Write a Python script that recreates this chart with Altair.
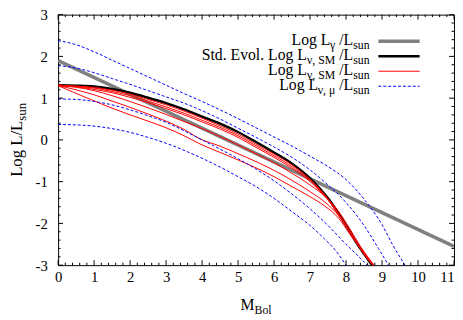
import altair as alt
import pandas as pd

# ---------------- data ----------------
gray_M = [0, 11]
gray_v = [1.90, -2.55]

black_M = [0, 0.5, 1, 1.5, 2, 2.5, 3, 3.5, 4, 4.5, 5, 5.5, 6, 6.5, 7, 7.5, 8, 8.3, 8.5, 8.72]
black_v = [1.31, 1.30, 1.28, 1.22, 1.13, 1.01, 0.88, 0.73, 0.56, 0.39, 0.19, -0.05, -0.30, -0.57, -0.92, -1.40, -2.05, -2.48, -2.73, -3.00]

red1_M = [0, 0.5, 1, 1.5, 2, 2.5, 3, 3.5, 4, 4.5, 5, 5.5, 6, 6.5, 7, 7.5, 8, 8.3, 8.5, 8.74]
red1_v = [1.31, 1.29, 1.26, 1.19, 1.10, 0.97, 0.84, 0.69, 0.52, 0.34, 0.14, -0.10, -0.34, -0.60, -0.94, -1.41, -2.05, -2.48, -2.74, -3.00]
red2_M = [0, 0.5, 1, 1.5, 2, 2.5, 3, 3.5, 4, 4.5, 5, 5.5, 6, 6.5, 7, 7.5, 8, 8.3, 8.5, 8.76]
red2_v = [1.31, 1.28, 1.24, 1.16, 1.06, 0.93, 0.79, 0.64, 0.47, 0.30, 0.10, -0.14, -0.38, -0.64, -0.97, -1.42, -2.05, -2.47, -2.73, -3.00]
red3_M = [0, 0.5, 1, 1.5, 2, 2.5, 3, 3.5, 4, 4.5, 5, 5.5, 6, 6.5, 7, 7.5, 8, 8.3, 8.5, 8.78]
red3_v = [1.31, 1.27, 1.21, 1.13, 1.02, 0.89, 0.75, 0.60, 0.43, 0.26, 0.06, -0.18, -0.42, -0.68, -1.00, -1.44, -2.06, -2.47, -2.72, -3.00]
red4_M = [0, 0.5, 1, 1.5, 2, 2.5, 3, 3.5, 4, 4.5, 5, 5.5, 6, 6.5, 7, 7.5, 7.8, 8.1, 8.4, 8.78]
red4_v = [1.30, 1.26, 1.18, 1.06, 0.92, 0.77, 0.61, 0.44, 0.27, 0.08, -0.12, -0.33, -0.55, -0.80, -1.08, -1.42, -1.72, -2.12, -2.55, -3.00]
red5_M = [0, 0.5, 1, 1.5, 2, 2.5, 3, 3.5, 3.93, 4.5, 5, 5.5, 6, 6.5, 7, 7.4, 7.8, 8.1, 8.4, 8.76]
red5_v = [1.30, 1.20, 1.08, 0.93, 0.78, 0.62, 0.45, 0.25, 0.03, -0.15, -0.33, -0.52, -0.73, -0.97, -1.24, -1.48, -1.82, -2.20, -2.60, -3.00]
red6_M = [0, 0.4, 0.9, 1.5, 2, 2.5, 3, 3.5, 3.9, 4.5, 5, 5.5, 6, 6.5, 7, 7.4, 7.8, 8.1, 8.4, 8.75]
red6_v = [1.30, 1.15, 0.97, 0.76, 0.60, 0.45, 0.29, 0.10, -0.08, -0.30, -0.48, -0.67, -0.88, -1.12, -1.36, -1.58, -1.88, -2.25, -2.60, -3.00]

blue1_M = [0, 0.5, 1, 1.5, 2, 2.5, 3, 3.5, 4, 4.5, 5, 5.5, 6, 6.5, 7, 7.5, 8, 8.5, 9, 9.3, 9.64]
blue1_v = [2.38, 2.28, 2.11, 1.91, 1.71, 1.51, 1.31, 1.11, 0.92, 0.72, 0.51, 0.29, 0.07, -0.15, -0.39, -0.64, -0.95, -1.42, -2.03, -2.52, -3.00]
blue2_M = [0, 0.5, 1, 1.5, 2, 2.5, 3, 3.5, 4, 4.5, 5, 5.5, 6, 6.5, 7, 7.5, 8, 8.5, 8.9, 9.18]
blue2_v = [1.78, 1.72, 1.61, 1.47, 1.33, 1.18, 1.03, 0.88, 0.70, 0.50, 0.28, 0.06, -0.17, -0.42, -0.72, -1.08, -1.50, -2.05, -2.60, -3.00]
blue3_M = [0, 0.5, 1, 1.5, 2, 2.5, 3, 3.5, 4, 4.5, 5, 5.5, 6, 6.5, 7, 7.5, 8, 8.3, 8.59]
blue3_v = [0.98, 0.97, 0.92, 0.84, 0.72, 0.58, 0.42, 0.22, 0.00, -0.22, -0.45, -0.70, -0.98, -1.30, -1.65, -2.05, -2.50, -2.75, -3.00]
blue4_M = [0, 0.5, 1, 1.5, 2, 2.5, 3, 3.5, 4, 4.5, 5, 5.5, 6, 6.5, 7, 7.4, 7.7, 8.0]
blue4_v = [0.37, 0.36, 0.33, 0.27, 0.18, 0.06, -0.08, -0.25, -0.44, -0.65, -0.88, -1.12, -1.40, -1.72, -2.05, -2.37, -2.64, -3.00]

x_major = list(range(0, 12))
y_major = [-3, -2, -1, 0, 1, 2, 3]
x_minor = [i / 5 for i in range(0, 56) if i % 5]
y_minor = [-3 + i / 5 for i in range(0, 31) if i % 5]

# ---------------- build table ----------------
rows = []
def add(name, group, Ms, vs):
    for i, (m, v) in enumerate(zip(Ms, vs)):
        rows.append({"series": name, "group": group, "M": m, "v": v, "i": i})

add("gray", "gray", gray_M, gray_v)
add("black", "black", black_M, black_v)
for k, (Ms, vs) in enumerate([(red1_M, red1_v), (red2_M, red2_v), (red3_M, red3_v),
                               (red4_M, red4_v), (red5_M, red5_v), (red6_M, red6_v)]):
    add(f"red{k}", "red", Ms, vs)
for k, (Ms, vs) in enumerate([(blue1_M, blue1_v), (blue2_M, blue2_v),
                               (blue3_M, blue3_v), (blue4_M, blue4_v)]):
    add(f"blue{k}", "blue", Ms, vs)
df = pd.DataFrame(rows)

W, H = 403, 255
FONT = "Liberation Serif"
xs = alt.Scale(domain=[0, 11], nice=False, zero=False)
ys = alt.Scale(domain=[-3, 3], nice=False, zero=False)
xaxis = alt.Axis(title=None, values=x_major, ticks=False, domain=False, grid=False,
                 labelFont=FONT, labelFontSize=15, labelColor="black", labelPadding=5,
                 labelExpr="'' + datum.value", labelOverlap=False, labelFlush=False,
                 labelAlign=alt.condition("datum.value == 11", alt.value("right"), alt.value("center")))
yaxis = alt.Axis(title=None, values=y_major, ticks=False, domain=False, grid=False,
                 labelFont=FONT, labelFontSize=15, labelColor="black", labelPadding=11,
                 labelExpr="'' + datum.value", labelOverlap=False, labelFlush=False)

STY = {
    "gray": dict(color="#808080", strokeWidth=3.5),
    "black": dict(color="black", strokeWidth=2.5),
    "red": dict(color="#ff0000", strokeWidth=1),
    "blue": dict(color="#0000ff", strokeWidth=1, strokeDash=[3, 2]),
}

layers = []
for g in ["gray", "black", "red", "blue"]:
    layers.append(
        alt.Chart(df).transform_filter(alt.datum.group == g)
        .mark_line(clip=True, interpolate="monotone", **STY[g])
        .encode(x=alt.X("M:Q", scale=xs, axis=xaxis),
                y=alt.Y("v:Q", scale=ys, axis=yaxis),
                detail="series:N", order="i:Q")
    )

# inward ticks on all four sides
def xticks(vals, L):
    d = pd.DataFrame({"t": vals})
    b = alt.Chart(d).mark_rule(color="black", strokeWidth=1).encode(
        x=alt.X("t:Q", scale=xs, axis=xaxis), y=alt.value(H), y2=alt.value(H - L))
    t = alt.Chart(d).mark_rule(color="black", strokeWidth=1).encode(
        x=alt.X("t:Q", scale=xs, axis=xaxis), y=alt.value(0), y2=alt.value(L))
    return [b, t]

def yticks(vals, L):
    d = pd.DataFrame({"t": vals})
    l = alt.Chart(d).mark_rule(color="black", strokeWidth=1).encode(
        y=alt.Y("t:Q", scale=ys, axis=yaxis), x=alt.value(0), x2=alt.value(L))
    r = alt.Chart(d).mark_rule(color="black", strokeWidth=1).encode(
        y=alt.Y("t:Q", scale=ys, axis=yaxis), x=alt.value(W), x2=alt.value(W - L))
    return [l, r]

layers += xticks(x_major, 5) + xticks(x_minor, 2.5) + yticks(y_major, 5) + yticks(y_minor, 2.5)

# ---------------- text helpers (Times metrics) ----------------
EM = {"L": 0.611, "o": 0.5, "g": 0.5, " ": 0.25, "/": 0.278, "s": 0.389, "u": 0.5,
      "n": 0.5, "S": 0.556, "t": 0.278, "d": 0.5, ".": 0.25, "E": 0.611, "v": 0.5,
      "l": 0.278, "γ": 0.41, "ν": 0.46, ",": 0.25, "M": 0.889, "μ": 0.5, "B": 0.667}
def tw(s, size):
    return sum(EM.get(c, 0.5) for c in s) * size

one = pd.DataFrame({"a": [0]})
def txt(s, x, y, size, align="left", angle=0):
    return alt.Chart(one).mark_text(align=align, baseline="alphabetic", font=FONT,
                                    fontSize=size, color="black", angle=angle).encode(
        text=alt.value(s), x=alt.value(x), y=alt.value(y))

F, FS, SUBDY = 16, 12, 4

# legend
leg_rows = [
    ("gray", [("Log L", 0), ("γ", 1), (" /L", 0), ("sun", 1)]),
    ("black", [("Std. Evol. Log L", 0), ("ν, SM", 1), (" /L", 0), ("sun", 1)]),
    ("red", [("Log L", 0), ("ν, SM", 1), (" /L", 0), ("sun", 1)]),
    ("blue", [("Log L", 0), ("ν, μ", 1), (" /L", 0), ("sun", 1)]),
]
TEXT_R = 317
for r, (g, pieces) in enumerate(leg_rows):
    ly = 27 + r * 15.3
    base = ly + 4
    cur = TEXT_R
    for s, sub in reversed(pieces):
        size = FS if sub else F
        layers.append(txt(s, cur, base + (SUBDY if sub else 0), size, align="right"))
        cur -= tw(s, size)
    sty = dict(STY[g])
    layers.append(alt.Chart(one).mark_rule(**sty).encode(
        x=alt.value(326), x2=alt.value(368), y=alt.value(ly)))

# axis titles
FT, FTS = 17, 13
ymain, ysub = "Log L/L", "sun"
T = tw(ymain, FT) + tw(ysub, FTS)
y0 = H / 2 + T / 2
layers.append(txt(ymain, -37, y0, FT, angle=270))
layers.append(txt(ysub, -37 + 4, y0 - tw(ymain, FT), FTS, angle=270))
T2 = tw("M", F) + tw("Bol", FS)
x0 = W / 2 - T2 / 2
layers.append(txt("M", x0, 300.7, F))
layers.append(txt("Bol", x0 + tw("M", F), 300.7 + SUBDY, FS))

chart = alt.layer(*layers).properties(
    width=W, height=H,
    autosize=alt.AutoSizeParams(type="none"),
    padding={"left": 51, "top": 4, "right": 1, "bottom": 50},
).configure_view(stroke="black", strokeWidth=1).configure_axis(labelFont=FONT)

chart.save("out.html", embed_options={"renderer": "svg", "actions": False})
